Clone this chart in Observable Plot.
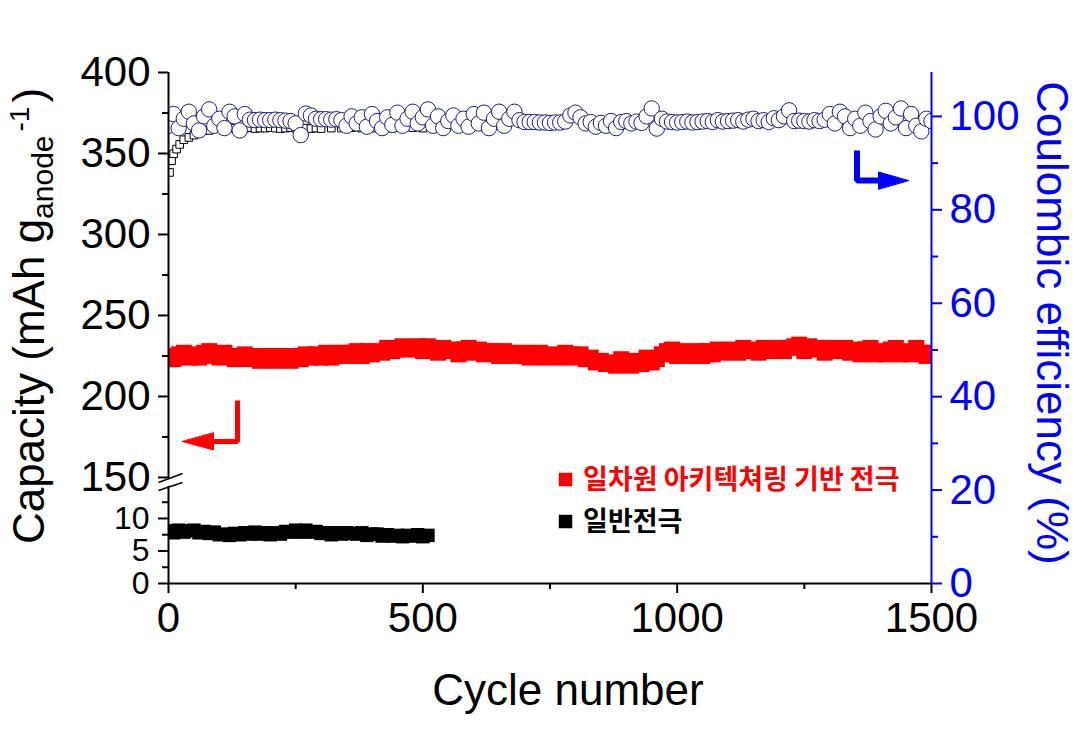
<!DOCTYPE html>
<html><head><meta charset="utf-8">
<script src="https://cdn.jsdelivr.net/npm/d3@7"></script>
<script src="https://cdn.jsdelivr.net/npm/@observablehq/plot@0.6"></script>
<style>body{margin:0;background:#fff} svg{display:block}</style>
</head><body><div id="chart"></div>
<script>
// ---------- data ----------
// capacity of 1D-architecture electrode (mAh/g), every 10 cycles, 0..1500
const redCycles = d3.range(0, 1501, 10);
const redCap = [
 225,223,226,227,224,226,224,227,228,225,224,
 227,225,223,225,226,223,225,222,224,225,
 222,224,225,222,225,223,226,224,226,224,
 227,224,226,227,225,227,228,225,228,226,
 228,227,230,228,229,231,229,230,231,228,
 231,229,227,230,228,229,226,229,230,227,
 229,226,228,228,225,228,227,225,226,227,
 224,226,227,224,226,225,224,227,226,224,
 226,223,224,221,222,220,221,219,223,220,
 219,222,220,224,221,223,226,228,229,225,
 228,225,227,228,225,228,226,229,227,228,
 229,227,230,228,229,227,230,228,229,230,
 228,230,231,232,228,231,229,230,227,230,
 228,229,230,227,229,226,229,230,226,228,
 226,229,230,226,228,226,230,227,225,227
];
// capacity of conventional electrode, every 10 cycles, 0..510
const blackCycles = d3.range(0, 511, 10);
const blackCap = [
 8.1,7.8,8.2,7.9,8.1,8.2,7.8,8.0,7.7,7.9,7.5,
 7.6,7.4,7.7,7.5,7.8,7.6,7.9,7.6,7.8,7.5,
 7.8,7.6,8.0,7.9,8.2,7.9,8.2,7.9,8.0,7.7,
 7.8,7.5,7.8,7.6,7.8,7.7,7.6,7.8,7.4,7.6,
 7.6,7.3,7.5,7.3,7.4,7.2,7.4,7.3,7.5,7.2,7.4
];
// coulombic efficiency (%) of 1D electrode (open circles)
const ceCircleCycles = d3.range(0, 1501, 10);
const ceCircle = [
 98.0,100.5,97.5,99.5,101.0,98.5,97.0,100.0,101.5,98.0,99.5,
 97.5,101.0,100.0,97.0,100.5,99.3,99.2,99.3,99.2,99.2,
 99.3,99.2,99.1,99.0,98.5,96.0,100.6,100.2,99.5,99.4,
 99.4,99.3,99.4,99.2,98.0,100.0,98.5,99.8,97.8,100.5,
 99.0,97.5,99.8,98.2,100.8,98.0,99.5,101.0,98.5,99.8,
 101.5,98.0,100.0,97.5,99.0,100.2,98.0,99.5,97.8,100.5,
 98.5,100.8,97.5,99.5,101.0,98.0,99.5,101.0,99.2,98.8,
 98.8,98.8,98.7,98.7,98.6,98.7,98.7,98.9,100.2,100.8,
 99.8,98.5,98.8,97.8,98.6,98.0,99.0,97.5,98.8,99.0,
 98.5,98.9,98.6,100.0,101.7,97.4,99.5,98.9,98.8,98.7,
 98.8,98.9,98.7,98.8,98.9,99.0,98.8,99.2,98.9,99.0,
 99.1,99.2,98.9,99.3,99.5,99.0,99.2,98.8,99.6,99.2,
 100.0,101.3,99.0,99.1,99.0,98.9,99.2,99.0,99.3,100.5,
 98.5,101.0,100.0,97.5,99.5,98.0,100.8,99.0,97.2,100.0,
 101.2,98.5,99.8,101.7,97.5,100.5,98.0,96.8,99.5,99.0
];
// coulombic efficiency (%) of conventional electrode (open squares)
const ceSquareCycles = [2,6,10,16,22,30,40,50,60,70,80,90,100,110,120,130,140,150,160,170,180,190,200,
  210,220,230,240,250,260,270,280,290,300,320,340,360,380,400,420,440,460,480,500];
const ceSquare = [88.0,90.5,92.0,93.0,94.0,95.0,95.5,96.0,96.5,97.0,97.0,97.5,97.5,97.5,97.6,97.5,97.6,97.5,97.6,97.4,97.5,97.5,97.6,
  97.5,97.4,97.5,97.6,97.5,97.4,97.5,97.4,97.5,97.4,97.5,97.5,97.6,97.5,97.5,97.6,97.5,97.5,97.6,97.5];

// axis ticks
const xTicks = [0, 500, 1000, 1500];
const xMinor = [250, 750, 1250];
const capUpperTicks = [150, 200, 250, 300, 350, 400];
const capUpperMinor = [175, 225, 275, 325, 375];
const capLowerTicks = [0, 5, 10];
const capLowerMinor = [2.5, 7.5, 12.5];
const ceTicks = [0, 20, 40, 60, 80, 100];
const ceMinor = [10, 30, 50, 70, 90];

// legend texts
const legendLabels = ["일차원 아키텍쳐링 기반 전극", "일반전극"];
const legendColors = ["#ff0000", "#000000"];

// ---------- broken capacity axis mapped onto CE scale ----------
const CE_MAX = 109.4;
const BREAK_LO = 150, UP_BASE = 22.70, UP_SLOPE = 0.3468, LOW_SLOPE = 1.392;
function capToCE(c) { return c >= 100 ? UP_BASE + (c - BREAK_LO) * UP_SLOPE : c * LOW_SLOPE; }
const capLabel = new Map([...capUpperTicks, ...capLowerTicks].map(c => [capToCE(c), String(c)]));

const red = redCycles.map((x, i) => ({x, y: capToCE(redCap[i])}));
const black = blackCycles.map((x, i) => ({x, y: capToCE(blackCap[i])}));
const circles = ceCircleCycles.map((x, i) => ({x, y: ceCircle[i]}));
const squares = ceSquareCycles.map((x, i) => ({x, y: ceSquare[i]}));

// annotation anchors (data units: cycle, CE-scale)
const redArrow = [{x: 135.6, y: 39.18}, {x: 135.6, y: 30.40}, {x: 88.5, y: 30.40}];
const redHead = [{x: 27.5, y: 30.40}];
const blueArrow = [{x: 1353.5, y: 92.70}, {x: 1353.5, y: 86.28}, {x: 1395.8, y: 86.28}];
const blueHead = [{x: 1454.8, y: 86.28}];
const legendPos = [{x: 780.5, y: 22.26}, {x: 780.5, y: 13.27}];
const legendTextX = 815;
const breakMarks = [
  {x1: -19.7, y1: 21.62, x2: 27.5, y2: 23.55},
  {x1: -19.7, y1: 19.91, x2: 27.5, y2: 21.62}
];
const upperAxisBottom = 22.50, lowerAxisTop = 20.80;

const headShape = {
  draw(context, l, r) {
    context.moveTo(0, -l);
    context.lineTo(-r, 0);
    context.lineTo(r, 0);
    context.closePath();
  }
};

const BLUE = "#0000ff";
const plot = Plot.plot({
  width: 1091, height: 732,
  marginLeft: 168, marginRight: 160, marginTop: 72, marginBottom: 149,
  style: {fontFamily: "'Liberation Sans', Arial, sans-serif", background: "#fff", overflow: "visible"},
  x: {domain: [0, 1500], axis: null, label: null},
  y: {domain: [0, CE_MAX], axis: null, label: null},
  marks: [
    // data
    Plot.dot(red, {x: "x", y: "y", symbol: "square", r: 9.0, fill: "#ff0000", clip: true}),
    Plot.dot(black, {x: "x", y: "y", symbol: "square", r: 7.6, fill: "#000000", clip: true}),
    Plot.dot(squares, {x: "x", y: "y", symbol: "square", r: 4.3, fill: "#fff", stroke: "#000", strokeWidth: 1, clip: true}),
    Plot.dot(circles, {x: "x", y: "y", symbol: "circle", r: 7.7, fill: "#fff", stroke: "#1c1c80", strokeWidth: 1, clip: true}),
    // axis lines
    Plot.ruleY([0], {x1: 0, x2: 1500, stroke: "#000", strokeWidth: 2}),
    Plot.ruleX([0], {y1: upperAxisBottom, y2: CE_MAX, stroke: "#000", strokeWidth: 2}),
    Plot.ruleX([0], {y1: 0, y2: lowerAxisTop, stroke: "#000", strokeWidth: 2}),
    Plot.ruleX([1500], {y1: 0, y2: CE_MAX, stroke: BLUE, strokeWidth: 2}),
    Plot.link(breakMarks, {x1: "x1", y1: "y1", x2: "x2", y2: "y2", stroke: "#000", strokeWidth: 1.5}),
    // x axis
    Plot.axisX(xTicks, {anchor: "bottom", tickSize: 10, tickPadding: 9, fontSize: 42, strokeWidth: 2, tickFormat: d => String(d), label: null}),
    Plot.axisX(xMinor, {anchor: "bottom", tickSize: 6, strokeWidth: 2, tickFormat: () => "", label: null}),
    // left (capacity) axis
    Plot.axisY(capUpperTicks.map(capToCE), {anchor: "left", tickSize: 10, tickPadding: 8, fontSize: 42, strokeWidth: 2, tickFormat: d => capLabel.get(d), label: null}),
    Plot.axisY(capLowerTicks.map(capToCE), {anchor: "left", tickSize: 10, tickPadding: 9, fontSize: 32, strokeWidth: 2, tickFormat: d => capLabel.get(d), label: null}),
    Plot.axisY([...capUpperMinor, ...capLowerMinor].map(capToCE), {anchor: "left", tickSize: 6, strokeWidth: 2, tickFormat: () => "", label: null}),
    // right (CE) axis
    Plot.axisY(ceTicks, {anchor: "right", tickSize: 10, tickPadding: 8, fontSize: 42, strokeWidth: 2, color: BLUE, label: null}),
    Plot.axisY(ceMinor, {anchor: "right", tickSize: 6, strokeWidth: 2, tickFormat: () => "", color: BLUE, label: null}),
    // arrows
    Plot.line(redArrow, {x: "x", y: "y", stroke: "#ff0000", strokeWidth: 5, strokeLinejoin: "miter", strokeLinecap: "butt"}),
    Plot.vector(redHead, {x: "x", y: "y", length: 31, rotate: -90, anchor: "end", shape: {draw(c, l) { headShape.draw(c, l, 8.5); }}, fill: "#ff0000", stroke: "#ff0000", strokeWidth: 1}),
    Plot.line(blueArrow, {x: "x", y: "y", stroke: BLUE, strokeWidth: 6, strokeLinejoin: "miter", strokeLinecap: "butt"}),
    Plot.vector(blueHead, {x: "x", y: "y", length: 30, rotate: 90, anchor: "end", shape: {draw(c, l) { headShape.draw(c, l, 8.5); }}, fill: BLUE, stroke: BLUE, strokeWidth: 1}),
    // legend
    Plot.dot(legendPos, {x: "x", y: "y", symbol: "square", r: 7.6, fill: (d, i) => legendColors[i]}),
    Plot.text(legendPos, {x: () => legendTextX, y: "y", text: (d, i) => legendLabels[i], fill: (d, i) => legendColors[i],
      textAnchor: "start", fontSize: 27, fontWeight: "bold", fontFamily: "'Noto Sans CJK KR', sans-serif", dy: 1})
  ]
});
document.getElementById("chart").appendChild(plot);

// axis titles (rich text with sub/superscript)
const svg = d3.select(plot);
const lt = svg.append("text")
  .attr("transform", "translate(44,316) rotate(-90)")
  .attr("text-anchor", "middle")
  .attr("font-size", 44).attr("fill", "#000");
lt.append("tspan").text("Capacity (mAh g");
lt.append("tspan").attr("font-size", 30).attr("dy", 9).text("anode");
lt.append("tspan").attr("font-size", 28).attr("dy", -24).attr("dx", 4).text("-1");
lt.append("tspan").attr("dy", 15).attr("dx", 4).text(")");

svg.append("text")
  .attr("transform", "translate(1037,323) rotate(90)")
  .attr("text-anchor", "middle")
  .attr("font-size", 44).attr("fill", BLUE)
  .text("Coulombic efficiency (%)");

svg.append("text")
  .attr("x", 568).attr("y", 705)
  .attr("text-anchor", "middle")
  .attr("font-size", 44).attr("fill", "#000")
  .text("Cycle number");
</script>
</body></html>
